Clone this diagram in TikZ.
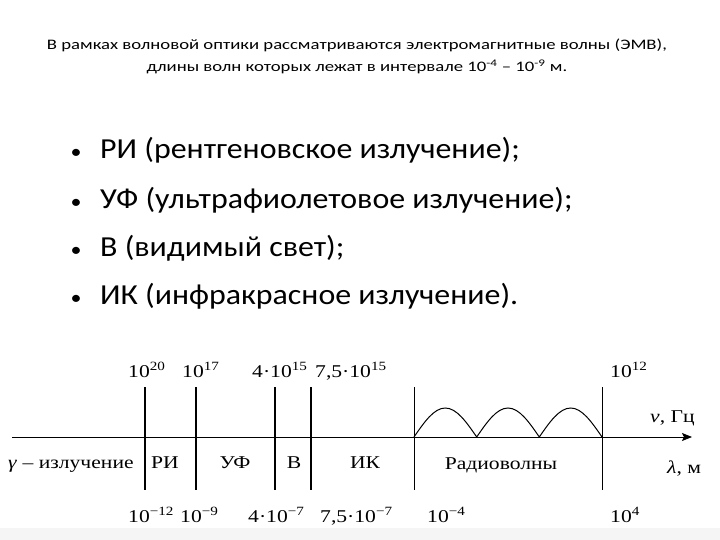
\documentclass[tikz,border=0pt]{standalone}
\usepackage{fontspec}
\setmainfont{Carlito}
\newfontfamily\tms{Liberation Serif}
\usetikzlibrary{arrows.meta}
\begin{document}
\begin{tikzpicture}[x=1pt,y=-1pt,
	lbl/.style={font=\tms\fontsize{18}{20}\selectfont,inner sep=0pt,xscale=1.2},
	headtxt/.style={anchor=base,inner sep=0pt,font=\fontsize{14.5}{16}\selectfont,xscale=1.29},
	itemtxt/.style={inner sep=0pt,font=\fontsize{29}{32}\selectfont,xscale=1.1},
	bnd/.style={line width=2.6pt},
	radbnd/.style={line width=1pt}]
	\useasboundingbox (0,0) rectangle (720,540);
	\fill[gray!8] (0,528) rectangle (720,540);
	% header
	\node (head1) at (357,50)[headtxt]{В рамках волновой оптики рассматриваются электромагнитные волны (ЭМВ),};
	\node (head2) at (357,72)[headtxt]{длины волн которых лежат в интервале 10\textsuperscript{-4} – 10\textsuperscript{-9} м.};
	% list
	\foreach \n/\y/\t in {1/159/РИ (рентгеновское излучение);,2/208/УФ (ультрафиолетовое излучение);,3/256/В (видимый свет);,4/304/ИК (инфракрасное излучение).}{
		\node (dot\n) at (76,\y)[itemtxt,anchor=base,font=\fontsize{20}{24}\selectfont]{•};
		\node (item\n) at (100,\y)[itemtxt,anchor=base west]{\t};
	}
	% axis
	\coordinate (axL) at (12,437);
	\coordinate (axR) at (692,437);
	\draw[line width=0.9pt,-{Stealth[length=10pt,width=8pt,inset=2pt]}] (axL) -- (axR);
	\foreach \n/\x in {a/145,b/196,c/275,d/311}{
		\coordinate (\n top) at (\x,387);
		\coordinate (\n bot) at (\x,490);
		\draw[bnd] (\n top) -- (\n bot);
	}
	\foreach \n/\x in {e/414,f/602}{
		\coordinate (\n top) at (\x,387);
		\coordinate (\n bot) at (\x,490);
		\draw[radbnd] (\n top) -- (\n bot);
	}
	% waves
	\draw[line width=1pt] (414,437) sin (445.3,408) cos (476.7,437) sin (508,408) cos (539.3,437) sin (570.7,408) cos (602,437);
	% frequencies
	\node (f1) at (128,377)[lbl,anchor=base west]{10\textsuperscript{20}};
	\node (f2) at (182,377)[lbl,anchor=base west]{10\textsuperscript{17}};
	\node (f3) at (252,377)[lbl,anchor=base west]{4·10\textsuperscript{15}};
	\node (f4) at (315,377)[lbl,anchor=base west]{7,5·10\textsuperscript{15}};
	\node (f5) at (610,377)[lbl,anchor=base west]{10\textsuperscript{12}};
	% wavelengths
	\node (w1) at (128,522)[lbl,anchor=base west]{10\textsuperscript{−12}};
	\node (w2) at (180,522)[lbl,anchor=base west]{10\textsuperscript{−9}};
	\node (w3) at (248,522)[lbl,anchor=base west]{4·10\textsuperscript{−7}};
	\node (w4) at (320,522)[lbl,anchor=base west]{7,5·10\textsuperscript{−7}};
	\node (w5) at (427,522)[lbl,anchor=base west]{10\textsuperscript{−4}};
	\node (w6) at (610,522)[lbl,anchor=base west]{10\textsuperscript{4}};
	% ranges
	\node (gam) at (8,468)[lbl,anchor=base west]{\textit{γ} – излучение};
	\node (ri) at (165,468)[lbl,anchor=base]{РИ};
	\node (uf) at (235,468)[lbl,anchor=base]{УФ};
	\node (vis) at (294,468)[lbl,anchor=base]{В};
	\node (ik) at (365,468)[lbl,anchor=base]{ИК};
	\node (radio) at (501,469)[lbl,anchor=base]{Радиоволны};
	\node (nu) at (650,422)[lbl,anchor=base west]{\textit{ν}, Гц};
	\node (lam) at (667,473)[lbl,anchor=base west]{\textit{λ}, м};
\end{tikzpicture}
\end{document}
